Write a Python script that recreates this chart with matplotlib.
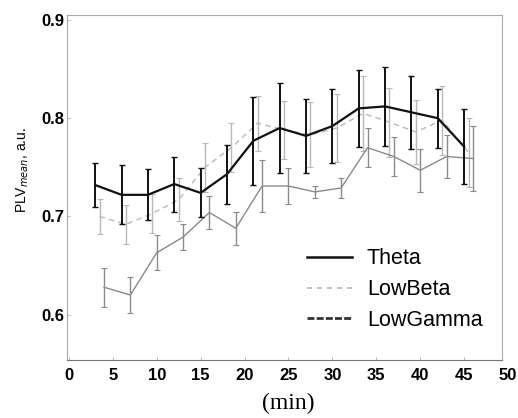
import matplotlib
matplotlib.use('Agg')
import matplotlib.pyplot as plt
from matplotlib.lines import Line2D
import numpy as np

# Time points (min) and PLV values
time = [3, 6, 9, 12, 15, 18, 21, 24, 27, 30, 33, 36, 39, 42, 45]

theta = [0.732, 0.722, 0.722, 0.733, 0.724, 0.743, 0.777, 0.790, 0.782, 0.792,
         0.810, 0.812, 0.806, 0.800, 0.771]
theta_err = [0.022, 0.030, 0.026, 0.028, 0.025, 0.030, 0.045, 0.046, 0.038, 0.038,
             0.039, 0.040, 0.037, 0.030, 0.038]

lowbeta = [0.700, 0.692, 0.703, 0.717, 0.750, 0.770, 0.795, 0.788, 0.783, 0.790,
           0.805, 0.796, 0.786, 0.798, 0.765]
lowbeta_err = [0.018, 0.020, 0.020, 0.022, 0.025, 0.025, 0.028, 0.030, 0.033, 0.035,
               0.038, 0.035, 0.033, 0.035, 0.035]

lowgamma = [0.628, 0.620, 0.663, 0.679, 0.704, 0.688, 0.731, 0.731, 0.725, 0.729,
            0.770, 0.761, 0.747, 0.761, 0.759]
lowgamma_err = [0.020, 0.018, 0.018, 0.013, 0.017, 0.017, 0.026, 0.018, 0.006, 0.010,
                0.020, 0.020, 0.022, 0.022, 0.033]

xticks = [0, 5, 10, 15, 20, 25, 30, 35, 40, 45, 50]
yticks = [0.6, 0.7, 0.8, 0.9]

t = np.array(time)

fig = plt.figure(figsize=(5.18, 4.18), dpi=100)
ax = fig.add_axes([0.129, 0.139, 0.840, 0.825])

# Theta
ax.errorbar(t, theta, yerr=theta_err, color='#111111', lw=1.6,
            elinewidth=1.4, capsize=2.5, capthick=1.0, label='Theta', zorder=3)
# LowBeta (slightly shifted in time)
ax.errorbar(t + 0.5, lowbeta, yerr=lowbeta_err, color='#b8b8b8', lw=1.0,
            ls=(0, (4, 3)), elinewidth=1.0, capsize=2.5, capthick=0.8,
            label='LowBeta', zorder=2)
# LowGamma
ax.errorbar(t + 1.0, lowgamma, yerr=lowgamma_err, color='#8a8a8a', lw=1.0,
            elinewidth=1.0, capsize=2.5, capthick=0.8, label='LowGamma', zorder=2)

ax.set_xlim(-0.23, 49.3)
ax.set_ylim(0.554, 0.905)
ax.set_xticks(xticks[:-1])
ax.set_xticklabels([str(v) for v in xticks[:-1]], fontsize=12, fontweight='bold',
                   family='Liberation Sans')
ax.text(xticks[-1], -0.024, str(xticks[-1]), transform=ax.get_xaxis_transform(),
        ha='center', va='top', fontsize=12, fontweight='bold', family='Liberation Sans')
ax.set_yticks(yticks)
ax.set_yticklabels(['%.1f' % v for v in yticks], fontsize=12, fontweight='bold',
                   family='Liberation Sans')
ax.tick_params(direction='in', length=2.5, width=0.6, color='#aaaaaa')
ax.tick_params(axis='x', pad=6)
ax.tick_params(axis='y', pad=2)

for s in ax.spines.values():
    s.set_color('#aaaaaa')
    s.set_linewidth(0.8)
ax.spines['bottom'].set_color('#777777')

ax.set_xlabel('(min)', fontsize=17, family='Liberation Serif')
ax.xaxis.set_label_coords(0.508, -0.095)
ax.set_ylabel('PLV$_{mean}$, a.u.', fontsize=10, family='Liberation Sans')
ax.yaxis.set_label_coords(-0.083, 0.55)

# legend with plain line handles
handles = [Line2D([], [], color='#111111', lw=1.8),
           Line2D([], [], color='#b5b5b5', lw=1.2, ls=(0, (3, 3))),
           Line2D([], [], color='#333333', lw=2.0, ls=(0, (2.5, 0.8)))]
ax.legend(handles, ['Theta', 'LowBeta', 'LowGamma'], loc='lower right',
          bbox_to_anchor=(1.0, 0.028), frameon=False,
          prop={'family': 'Liberation Sans', 'size': 15.5},
          handlelength=2.1, handletextpad=0.7, labelspacing=0.45)

plt.savefig('out.png', dpi=100)
